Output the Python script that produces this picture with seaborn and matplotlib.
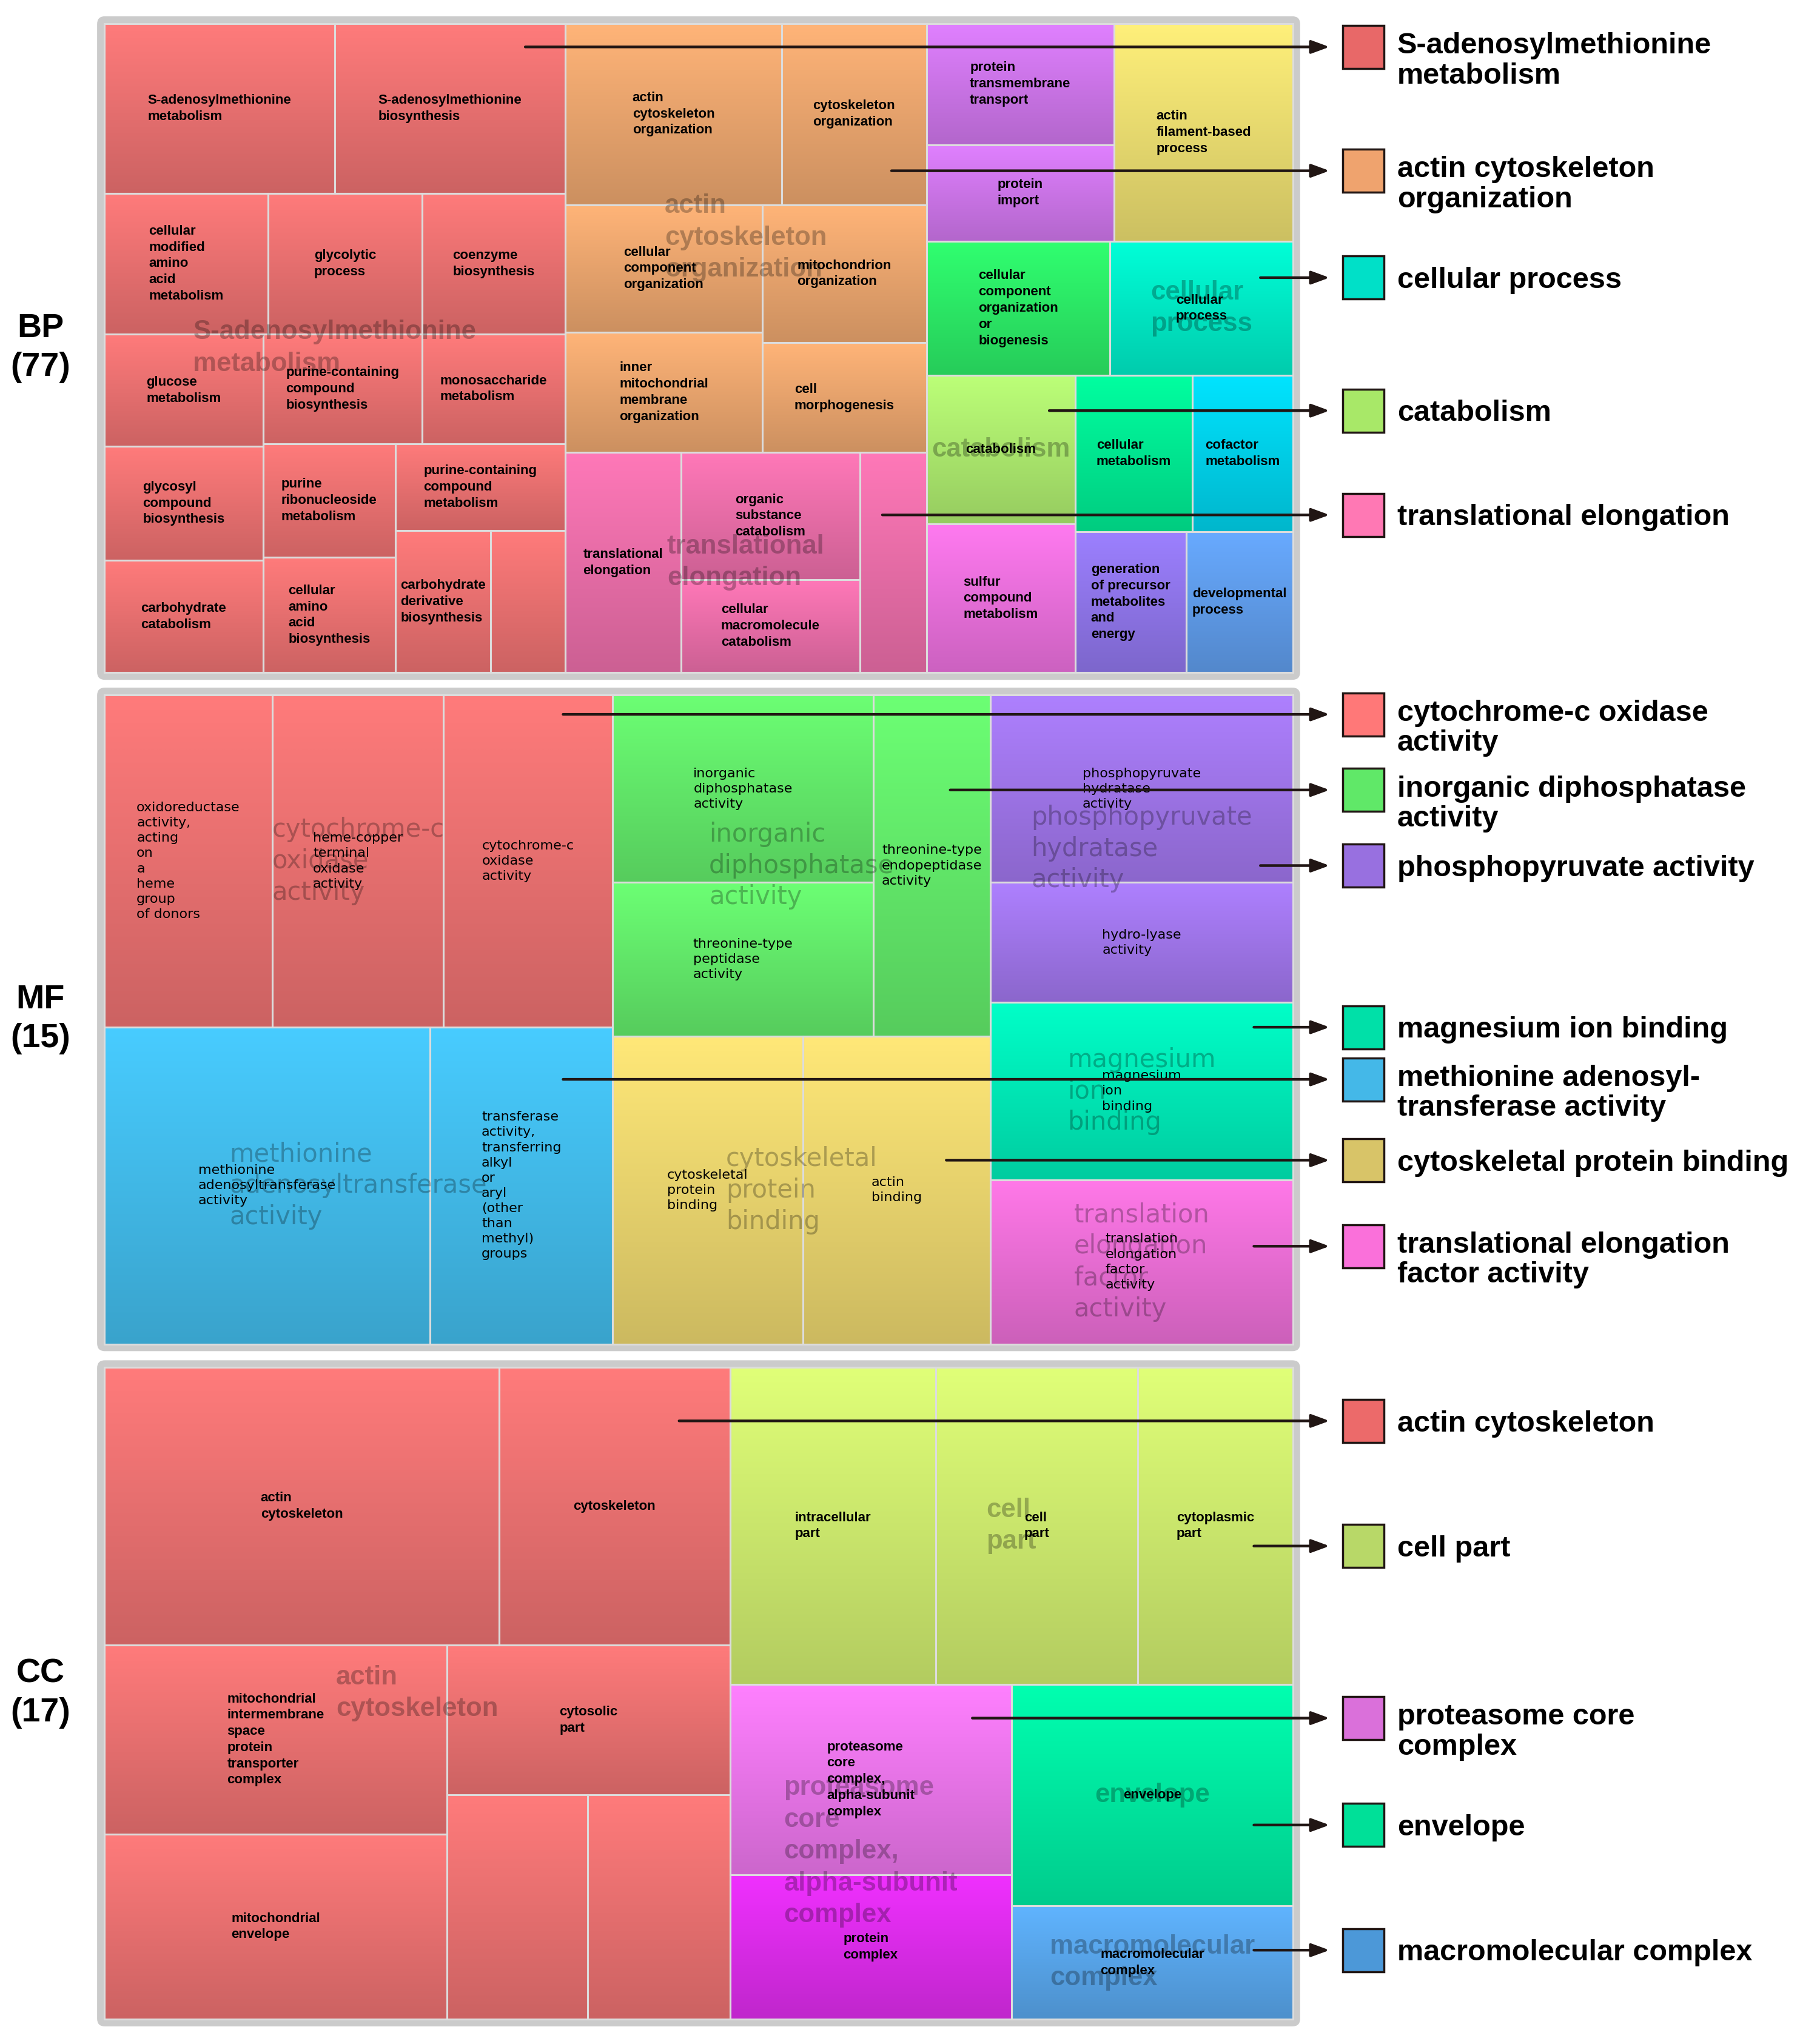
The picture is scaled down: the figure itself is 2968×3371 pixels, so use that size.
import numpy as np
import pandas as pd
import matplotlib
matplotlib.use("Agg")
import matplotlib.pyplot as plt
import seaborn as sns
from matplotlib.patches import Rectangle, FancyBboxPatch
from matplotlib.colors import to_rgb

sns.set_theme(style="white")
plt.rcParams["font.family"] = ["Liberation Sans", "DejaVu Sans"]

# ---------------- data ----------------
panel_names = ["BP", "MF", "CC"]
panel_counts = [77, 15, 17]

# BP: representative (group) titles, only the ones that get a big faded label
bp_titles = ["S-adenosylmethionine\nmetabolism", "actin\ncytoskeleton\norganization",
             "translational\nelongation", None, None, None, "cellular\nprocess",
             "catabolism", None, None, None, None, None]
bp_labels = ["S-adenosylmethionine\nmetabolism", "S-adenosylmethionine\nbiosynthesis",
             "cellular\nmodified\namino\nacid\nmetabolism", "glycolytic\nprocess",
             "coenzyme\nbiosynthesis", "glucose\nmetabolism",
             "glycosyl\ncompound\nbiosynthesis", "carbohydrate\ncatabolism",
             "purine-containing\ncompound\nbiosynthesis", "monosaccharide\nmetabolism",
             "purine\nribonucleoside\nmetabolism", "cellular\namino\nacid\nbiosynthesis",
             "purine-containing\ncompound\nmetabolism", "carbohydrate\nderivative\nbiosynthesis", "",
             "actin\ncytoskeleton\norganization", "cytoskeleton\norganization",
             "cellular\ncomponent\norganization", "inner\nmitochondrial\nmembrane\norganization",
             "mitochondrion\norganization", "cell\nmorphogenesis",
             "translational\nelongation", "organic\nsubstance\ncatabolism",
             "cellular\nmacromolecule\ncatabolism", "",
             "protein\ntransmembrane\ntransport", "protein\nimport",
             "actin\nfilament-based\nprocess",
             "cellular\ncomponent\norganization\nor\nbiogenesis",
             "cellular\nprocess", "catabolism", "sulfur\ncompound\nmetabolism",
             "cellular\nmetabolism", "cofactor\nmetabolism",
             "generation\nof precursor\nmetabolites\nand\nenergy", "developmental\nprocess"]
bp_sizes = [23010, 23010, 13608, 12744, 11880, 10492, 10614, 10492, 10248, 9240,
            8874, 8976, 8700, 7957, 6213,
            23074, 15429, 14798, 13892, 13356, 10584,
            15000, 13400, 9800, 8619,
            13392, 10656,
            22900, 14500, 14450, 13000, 13000, 10800, 9240, 9180, 8860]
bp_group = [0] * 15 + [1] * 6 + [2] * 4 + [3] * 2 + [4, 5, 6, 7, 8, 9, 10, 11, 12]
bp_colors = (["#FF7B7B"] * 15 + ["#FFB478"] * 6 + ["#FF78B8"] * 4 + ["#E080FF"] * 2
             + ["#FFF07A", "#30FF70", "#00FFD8", "#BCFF78", "#FF7AF0", "#00FFA0",
                "#00E4FF", "#9C80FF", "#68AAFF"])
bp_legend = ["S-adenosylmethionine\nmetabolism", "actin cytoskeleton\norganization",
             "cellular process", "catabolism", "translational elongation"]
bp_legend_colors = ["#E86868", "#EFA36E", "#00E0C8", "#A8E868", "#FF78B4"]

# MF
mf_titles = ["cytochrome-c\noxidase\nactivity", "methionine\nadenosyltransferase\nactivity",
             "inorganic\ndiphosphatase\nactivity", "cytoskeletal\nprotein\nbinding",
             "phosphopyruvate\nhydratase\nactivity", "magnesium\nion\nbinding",
             "translation\nelongation\nfactor\nactivity"]
mf_labels = ["oxidoreductase\nactivity,\nacting\non\na\nheme\ngroup\nof donors",
             "heme-copper\nterminal\noxidase\nactivity", "cytochrome-c\noxidase\nactivity",
             "methionine\nadenosyltransferase\nactivity",
             "transferase\nactivity,\ntransferring\nalkyl\nor\naryl\n(other\nthan\nmethyl)\ngroups",
             "inorganic\ndiphosphatase\nactivity", "threonine-type\npeptidase\nactivity",
             "threonine-type\nendopeptidase\nactivity",
             "cytoskeletal\nprotein\nbinding", "actin\nbinding",
             "phosphopyruvate\nhydratase\nactivity", "hydro-lyase\nactivity",
             "magnesium\nion\nbinding", "translation\nelongation\nfactor\nactivity"]
mf_sizes = [32895, 33405, 33150, 60750, 34020, 28800, 23600, 23580,
            34456, 33984, 33408, 21344, 31552, 29232]
mf_group = [0, 0, 0, 1, 1, 2, 2, 2, 3, 3, 4, 4, 5, 6]
mf_colors = ["#FF7B7B"] * 3 + ["#48CCFF"] * 2 + ["#6CFF74"] * 3 + ["#FFE878"] * 2 \
    + ["#AE80FF"] * 2 + ["#00FFC8", "#FF78E8"]
mf_legend = ["cytochrome-c oxidase\nactivity", "inorganic diphosphatase\nactivity",
             "phosphopyruvate activity", "magnesium ion binding",
             "methionine adenosyl-\ntransferase activity", "cytoskeletal protein binding",
             "translational elongation\nfactor activity"]
mf_legend_colors = ["#FF7878", "#60E868", "#9870E0", "#00E0A8", "#44B8E8", "#D8C468", "#FA70DA"]

# CC
cc_titles = ["actin\ncytoskeleton", "cell\npart",
             "proteasome\ncore\ncomplex,\nalpha-subunit\ncomplex", "envelope",
             "macromolecular\ncomplex"]
cc_labels = ["actin\ncytoskeleton", "cytoskeleton",
             "mitochondrial\nintermembrane\nspace\nprotein\ntransporter\ncomplex",
             "mitochondrial\nenvelope", "cytosolic\npart", "", "",
             "intracellular\npart", "cell\npart", "cytoplasmic\npart",
             "proteasome\ncore\ncomplex,\nalpha-subunit\ncomplex", "protein\ncomplex",
             "envelope", "macromolecular\ncomplex"]
cc_sizes = [64539, 37701, 38135, 37346, 24955, 18576, 18748,
            38394, 37665, 28917, 31536, 23976, 36720, 18792]
cc_group = [0] * 7 + [1] * 3 + [2, 2, 3, 4]
cc_colors = ["#FF7B7B"] * 7 + ["#E0FF78"] * 3 + ["#FF80FF", "#F030FF", "#00FFB0", "#60B4FF"]
cc_legend = ["actin cytoskeleton", "cell part", "proteasome core\ncomplex", "envelope",
             "macromolecular complex"]
cc_legend_colors = ["#EC6A6A", "#B8D868", "#DA70DA", "#00E098", "#4C98D8"]

# ---------------- layout (reference pixel grid 1381 x 1568) ----------------
PANEL_BOX = [(80, 18, 992, 516), (80, 533, 992, 1031), (80, 1049, 992, 1549)]
LEGEND_Y = [[36, 131, 213, 315, 395],
            [548, 606, 664, 788, 828, 890, 956],
            [1090, 1186, 1318, 1400, 1496]]
ARROW_X0 = [[403, 684, 967, 805, 677],
            [432, 729, 967, 962, 432, 726, 962],
            [521, 962, 746, 962, 962]]
INK = "#211614"


def worst(row, side):
    s = sum(row)
    return max(max(side * side * r / (s * s), (s * s) / (side * side * r)) for r in row)


def squarify(sizes, x, y, w, h):
    scale = w * h / float(sum(sizes))
    areas = [s * scale for s in sizes]
    rects = []
    i = 0
    while i < len(areas):
        side = min(w, h)
        row = [areas[i]]
        i += 1
        while i < len(areas) and worst(row + [areas[i]], side) <= worst(row, side):
            row.append(areas[i])
            i += 1
        total = sum(row)
        if w >= h:
            cw = total / h
            yy = y
            for a in row:
                rects.append((x, yy, cw, a / cw))
                yy += a / cw
            x += cw
            w -= cw
        else:
            rh = total / w
            xx = x
            for a in row:
                rects.append((xx, y, a / rh, rh))
                xx += a / rh
            y += rh
            h -= rh
    return rects


def darker(c, f=0.8):
    r, g, b = to_rgb(c)
    return (r * f, g * f, b * f)


grad = np.linspace(0, 1, 128).reshape(-1, 1)


def draw_panel(ax, df, titles, box, small_kw, big_kw):
    x0, y0, x1, y1 = box
    ax.add_patch(FancyBboxPatch((x0, y0), x1 - x0, y1 - y0,
                                boxstyle="round,pad=5.5,rounding_size=6",
                                fc="#CBCBCB", ec="none", zorder=0))
    gsum = df.groupby("group", sort=False)["size"].sum()
    grects = squarify(list(gsum.values), x0, y0, x1 - x0, y1 - y0)
    for g, (gx, gy, gw, gh) in zip(gsum.index, grects):
        sub = df[df["group"] == g]
        crects = squarify(list(sub["size"].values), gx, gy, gw, gh)
        for (_, row), (cx, cy, cw, ch) in zip(sub.iterrows(), crects):
            cmap = sns.blend_palette([row["color"], darker(row["color"])], as_cmap=True)
            ax.imshow(grad, cmap=cmap, extent=(cx, cx + cw, cy + ch, cy),
                      aspect="auto", interpolation="bilinear", zorder=1)
            ax.add_patch(Rectangle((cx, cy), cw, ch, fill=False, ec="#DCDCDC",
                                   lw=2.2, zorder=2))
            if row["label"]:
                ax.text(cx + cw / 2, cy + ch / 2, row["label"], ha="center", va="center",
                        multialignment="left", color="black", zorder=4, **small_kw)
        if titles[g]:
            ax.text(gx + gw / 2, gy + gh / 2, titles[g], ha="center", va="center",
                    multialignment="left", color="black", alpha=0.27, zorder=3, **big_kw)


fig = plt.figure(figsize=(29.68, 33.71), dpi=100)
ax = fig.add_axes([0, 0, 1, 1])

panels = [
    (bp_labels, bp_sizes, bp_group, bp_colors, bp_titles, bp_legend, bp_legend_colors),
    (mf_labels, mf_sizes, mf_group, mf_colors, mf_titles, mf_legend, mf_legend_colors),
    (cc_labels, cc_sizes, cc_group, cc_colors, cc_titles, cc_legend, cc_legend_colors),
]

bold_small = dict(fontsize=16, fontweight="bold", family="Liberation Sans", linespacing=1.36)
bold_big = dict(fontsize=31.5, fontweight="bold", family="Liberation Sans", linespacing=1.36)
thin_small = dict(fontsize=16, fontweight="normal", family="DejaVu Sans", linespacing=1.32)
thin_big = dict(fontsize=30, fontweight="normal", family="DejaVu Sans", linespacing=1.3)

for k, (labels, sizes, group, cols, titles, legend, lcols) in enumerate(panels):
    df = pd.DataFrame({"label": labels, "size": sizes, "group": group, "color": cols})
    if panel_names[k] == "MF":
        draw_panel(ax, df, titles, PANEL_BOX[k], thin_small, thin_big)
    else:
        draw_panel(ax, df, titles, PANEL_BOX[k], bold_small, bold_big)

    x0, y0, x1, y1 = PANEL_BOX[k]
    ax.text(31, (y0 + y1) / 2, f"{panel_names[k]}\n({panel_counts[k]})", ha="center",
            va="center", fontsize=40, fontweight="bold", linespacing=1.3, color="black")

    for text, c, ly, ax0 in zip(legend, lcols, LEGEND_Y[k], ARROW_X0[k]):
        ax.annotate("", xy=(1020, ly), xytext=(ax0, ly),
                    arrowprops=dict(arrowstyle="-|>,head_length=0.6,head_width=0.22",
                                    color=INK, lw=3.2, mutation_scale=30,
                                    shrinkA=0, shrinkB=0), zorder=6)
        ax.add_patch(Rectangle((1030, ly - 16.5), 32, 33, fc=c, ec=INK, lw=2.5, zorder=5))
        lines = text.split("\n")
        base = ly + 8 - (3 if len(lines) > 1 else 0)
        for i, line in enumerate(lines):
            ax.text(1072, base + 23 * i, line, ha="left", va="baseline", fontsize=35,
                    fontweight="bold", color="black")

ax.set_xlim(0, 1381)
ax.set_ylim(1568, 0)
ax.axis("off")
fig.savefig("out.png", dpi=100, facecolor="white")
